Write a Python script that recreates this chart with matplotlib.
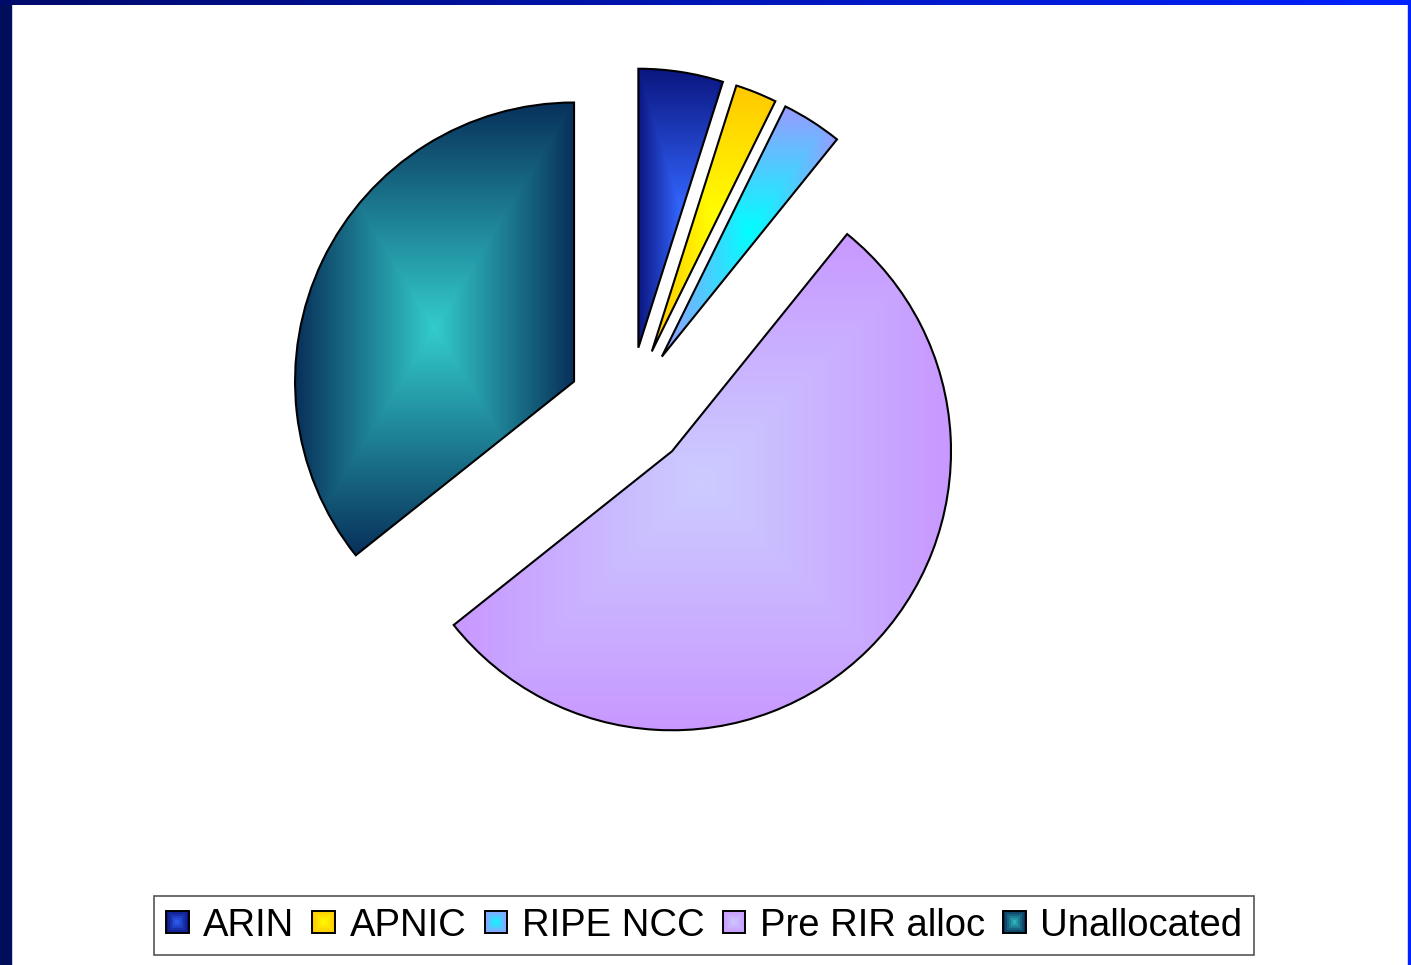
import numpy as np
import matplotlib.pyplot as plt
from matplotlib.patches import Rectangle
from matplotlib.legend_handler import HandlerBase
from matplotlib.colors import to_rgb

plt.rcParams['font.family'] = ['Liberation Sans', 'DejaVu Sans']

# share of address space (%)
labels = ['ARIN', 'APNIC', 'RIPE NCC', 'Pre RIR alloc', 'Unallocated']
shares = [4.9, 2.4, 3.5, 53.5, 35.7]

# gradient colours: outer edge of each slice -> its middle
edge_colors = ['#0b1680', '#ffc800', '#9a9aff', '#c898ff', '#08305a']
center_colors = ['#3366ff', '#ffff00', '#00ffff', '#ccccff', '#33cccc']

W, H = 1411, 965


def gradient_img(nx, ny, c_mid, c_edge):
    u = np.linspace(-1, 1, nx)
    v = np.linspace(-1, 1, ny)
    U, V = np.meshgrid(u, v)
    t = np.maximum(np.abs(U), np.abs(V))[..., None]
    return np.array(to_rgb(c_mid)) * (1 - t) + np.array(to_rgb(c_edge)) * t


class SquareGradient(HandlerBase):
    def __init__(self, c_mid, c_edge, steps=6):
        super().__init__()
        self.c_mid = np.array(to_rgb(c_mid))
        self.c_edge = np.array(to_rgb(c_edge))
        self.steps = steps

    def create_artists(self, legend, orig_handle, xdescent, ydescent,
                       width, height, fontsize, trans):
        s = min(width, height)
        x0 = -xdescent + (width - s) / 2
        y0 = -ydescent + (height - s) / 2
        arts = []
        for k in range(self.steps):
            t = 1 - k / self.steps
            inset = k * s / (2 * self.steps)
            col = self.c_mid * (1 - t) + self.c_edge * t
            arts.append(Rectangle((x0 + inset, y0 + inset), s - 2 * inset, s - 2 * inset,
                                  facecolor=col, edgecolor='none', transform=trans))
        arts.append(Rectangle((x0, y0), s, s, facecolor='none', edgecolor='black',
                              linewidth=1.4, transform=trans))
        return arts


fig = plt.figure(figsize=(W / 100, H / 100), dpi=100)
fig.patch.set_facecolor('white')

# slide frame
bg = fig.add_axes([0, 0, 1, 1])
bg.set_xlim(0, W)
bg.set_ylim(H, 0)
bg.axis('off')
bg.add_patch(Rectangle((0, 0), 11, H, color='#000c5c', zorder=1))
bg.add_patch(Rectangle((W - 3, 0), 3, H, color='#0022ff', zorder=1))
top = np.linspace(0, 1, 200)[None, :, None]
top = np.array(to_rgb('#000a6a')) * (1 - top) + np.array(to_rgb('#0022ff')) * top
bg.imshow(top, extent=(0, W, 5, 0), aspect='auto', zorder=2)
bg.set_xlim(0, W)
bg.set_ylim(H, 0)

ax = fig.add_axes([0, 0, 1, 1])
radius = 279
wedges, _ = ax.pie(shares, explode=[61] * len(shares), startangle=90,
                   counterclock=False, radius=radius, center=(629, H - 408),
                   wedgeprops=dict(facecolor='none', edgecolor='black',
                                   linewidth=1.5, zorder=3))

for w, cm, ce in zip(wedges, center_colors, edge_colors):
    w.set_facecolor('none')
    ext = w.get_path().get_extents()
    nx = int(ext.width) + 1
    ny = int(ext.height) + 1
    im = ax.imshow(gradient_img(nx, ny, cm, ce), origin='lower',
                   extent=(ext.x0, ext.x1, ext.y0, ext.y1),
                   interpolation='bilinear', zorder=2)
    im.set_clip_path(w)

ax.set_xlim(0, W)
ax.set_ylim(0, H)
ax.set_aspect('equal')
ax.axis('off')

hmap = {w: SquareGradient(cm, ce) for w, cm, ce in zip(wedges, center_colors, edge_colors)}
leg = fig.legend(wedges, labels, handler_map=hmap, loc='center',
                 bbox_to_anchor=(704 / W, 1 - 925.5 / H), ncol=5, fontsize=27.5,
                 frameon=True, fancybox=False, edgecolor='#555555', framealpha=1,
                 handlelength=0.6, handleheight=0.6, handletextpad=0.37,
                 columnspacing=0.48, borderpad=0.3)
leg.get_frame().set_linewidth(1.2)

plt.savefig('out.png', dpi=100)
plt.close()
